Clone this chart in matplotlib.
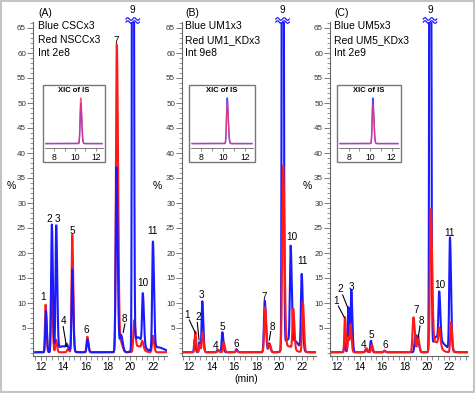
import numpy as np
import matplotlib
matplotlib.use("Agg")
import matplotlib.pyplot as plt
from matplotlib.patches import Rectangle

plt.rcParams['font.family'] = ['Liberation Sans', 'DejaVu Sans']

W, H = 475, 393
BLUE = '#1a1aff'
RED = '#ff1a1a'

# peak tables: retention time (min), height (%), width (min)
# panel A
a_blue_rt = [12.45, 12.98, 13.37, 13.9, 14.3, 14.8, 16.15, 18.75, 19.15, 20.2, 20.65, 21.1, 22.0, 22.4]
a_blue_h = [8.3, 25.5, 25.0, 1.2, 0.8, 16.3, 2.5, 37.0, 3.5, 250.0, 3.0, 10.0, 21.5, 1.0]
a_blue_w = [0.055, 0.06, 0.06, 0.35, 0.07, 0.06, 0.065, 0.07, 0.1, 0.05, 0.3, 0.065, 0.065, 0.4]
a_red_rt = [12.42, 12.95, 13.35, 14.4, 14.8, 16.15, 18.78, 19.15, 20.33, 20.7, 21.05, 22.0]
a_red_h = [9.5, 15.0, 2.5, 0.6, 23.5, 3.1, 61.5, 2.0, 6.0, 1.2, 1.5, 3.3]
a_red_w = [0.055, 0.06, 0.06, 0.07, 0.06, 0.065, 0.075, 0.1, 0.07, 0.25, 0.07, 0.07]

# panel B
b_blue_rt = [12.5, 12.92, 13.18, 14.55, 14.96, 16.2, 18.72, 19.12, 20.3, 20.75, 21.02, 21.5, 22.0]
b_blue_h = [2.5, 2.0, 10.2, 0.5, 4.0, 0.6, 10.3, 1.8, 250.0, 2.5, 19.0, 1.5, 15.0]
b_blue_w = [0.05, 0.05, 0.06, 0.07, 0.06, 0.06, 0.07, 0.07, 0.05, 0.3, 0.065, 0.25, 0.065]
b_red_rt = [12.55, 12.95, 13.2, 14.6, 15.08, 16.2, 18.75, 19.15, 20.35, 20.8, 21.25, 22.1]
b_red_h = [4.1, 1.5, 4.0, 0.4, 2.0, 0.3, 9.0, 1.6, 37.0, 1.2, 8.0, 10.0]
b_red_w = [0.055, 0.05, 0.06, 0.07, 0.06, 0.06, 0.075, 0.07, 0.08, 0.3, 0.065, 0.065]

# panel C
c_blue_rt = [12.65, 12.98, 13.25, 14.55, 15.0, 16.2, 18.98, 19.25, 20.28, 20.8, 21.1, 21.5, 22.06]
c_blue_h = [2.0, 9.0, 12.5, 0.5, 2.3, 0.3, 3.5, 1.5, 250.0, 3.0, 9.5, 1.2, 22.4]
c_blue_w = [0.05, 0.05, 0.06, 0.07, 0.06, 0.06, 0.08, 0.07, 0.05, 0.25, 0.065, 0.3, 0.065]
c_red_rt = [12.68, 12.98, 13.18, 14.6, 15.08, 16.2, 18.8, 19.2, 20.35, 20.8, 21.1, 22.15]
c_red_h = [7.0, 3.0, 5.5, 0.8, 1.5, 0.3, 7.0, 3.3, 28.2, 2.0, 3.5, 6.0]
c_red_w = [0.05, 0.05, 0.06, 0.07, 0.06, 0.06, 0.08, 0.07, 0.08, 0.25, 0.07, 0.065]

# internal standard (XIC of IS) peaks: rt, relative height
is_rt = [10.55, 10.37, 10.26]
is_blue_h = [0.88, 1.0, 1.0]
is_red_h = [1.0, 0.88, 0.85]

titles = ['(A)', '(B)', '(C)']
legend_blue = ['Blue CSCx3', 'Blue UM1x3', 'Blue UM5x3']
legend_red = ['Red NSCCx3', 'Red UM1_KDx3', 'Red UM5_KDx3']
intensity = ['Int 2e8', 'Int 9e8', 'Int 2e9']


def trace(t, rts, hs, ws, base=0.15):
    y = np.full_like(t, base)
    for r, h, w in zip(rts, hs, ws):
        wr = np.where(t > r, w * 1.5, w)
        y += h * np.exp(-0.5 * ((t - r) / wr) ** 2)
    return y


def fx(px):
    return px / W


def fy(py):
    return 1 - py / H


fig = plt.figure(figsize=(W / 100, H / 100), dpi=100)
fig.patches.append(Rectangle((0.002, 0.002), 0.996, 0.996, transform=fig.transFigure,
                             fill=False, ec='#c4c4c4', lw=1.5))

# panel geometry in pixels: left, right, x at left, x at right
panels = [(33, 167, 11.3, 23.26), (182, 316, 11.38, 23.27), (330, 468, 11.35, 23.67)]
top_px, bot_px = 22, 355.5
ylim = (-0.5, 66.2)

data = [
    (a_blue_rt, a_blue_h, a_blue_w, a_red_rt, a_red_h, a_red_w),
    (b_blue_rt, b_blue_h, b_blue_w, b_red_rt, b_red_h, b_red_w),
    (c_blue_rt, c_blue_h, c_blue_w, c_red_rt, c_red_h, c_red_w),
]

# peak label positions (x, y) and optional leader lines
labels = [
    {'1': (12.2, 11.3), '2': (12.74, 26.9), '3': (13.49, 26.9), '4': (13.99, 6.3),
     '5': (14.83, 24.3), '6': (16.08, 4.6), '7': (18.7, 62.5), '8': (19.5, 6.8),
     '10': (21.08, 13.9), '11': (21.97, 24.5)},
    {'1': (11.8, 7.6), '2': (12.83, 7.3), '3': (13.13, 11.6), '4': (14.4, 1.4),
     '5': (14.99, 5.1), '6': (16.17, 1.8), '7': (18.68, 11.3), '8': (19.43, 5.3),
     '10': (21.11, 23.3), '11': (22.09, 18.3)},
    {'1': (11.9, 10.3), '2': (12.3, 12.9), '3': (13.29, 13.1), '4': (14.32, 1.5),
     '5': (15.0, 3.6), '6': (16.26, 1.5), '7': (19.03, 8.6), '8': (19.47, 6.4),
     '10': (21.17, 13.6), '11': (22.06, 23.9)},
]
leaders = [
    [((13.99, 5.3), (14.29, 1.3)), ((19.5, 5.8), (19.35, 4.1))],
    [((12.03, 6.6), (12.59, 3.9)), ((12.74, 6.1), (12.89, 2.6)), ((19.25, 4.3), (19.13, 2.6))],
    [((12.09, 9.4), (12.63, 7.1)), ((12.48, 11.6), (12.93, 9.1)), ((19.38, 5.4), (19.23, 3.1))],
]
insets = [(43, 105), (189, 255), (337, 401)]
text_left = [38, 185, 334]
pct_x = [11, 157, 307]

for i in range(3):
    l, r, x0, x1 = panels[i]
    ax = fig.add_axes([fx(l), fy(bot_px), (r - l) / W, (bot_px - top_px) / H])
    ax.patch.set_alpha(0)
    brt, bh, bw, rrt, rh, rw = data[i]
    t = np.linspace(11.5, x1 - 0.05, 3000)
    yb = trace(t, brt, bh, bw)
    yr = trace(t, rrt, rh, rw)
    if i == 0:
        ax.plot(t, yr, color=RED, lw=1.5)
        ax.plot(t, yb, color=BLUE, lw=1.5)
    else:
        ax.plot(t, yb, color=BLUE, lw=1.5)
        ax.plot(t, yr, color=RED, lw=1.5)
    ax.set_xlim(x0, x1)
    ax.set_ylim(*ylim)
    for s in ['top', 'right']:
        ax.spines[s].set_visible(False)
    for s in ['left', 'bottom']:
        ax.spines[s].set_color('#666666')
        ax.spines[s].set_linewidth(0.8)
    ax.set_yticks(range(5, 70, 5))
    ax.set_yticks(range(0, 67), minor=True)
    ax.set_xticks(range(12, 23, 2))
    ax.set_xticks(np.arange(11.5, x1, 0.5), minor=True)
    ax.tick_params(axis='y', labelsize=5.8, length=4, width=0.6, color='#666666', pad=1,
                   labelcolor='#333333')
    ax.tick_params(axis='y', which='minor', length=2.5, width=0.5, color='#666666')
    ax.tick_params(axis='x', labelsize=7.2, length=3, width=0.6, color='#666666', pad=2)
    ax.tick_params(axis='x', which='minor', length=3, width=0.5, color='#666666')

    # peak labels
    for lab, (lx, ly) in labels[i].items():
        ax.text(lx, ly, lab, fontsize=7.2, ha='center', va='center')
    for (p0, p1) in leaders[i]:
        ax.plot([p0[0], p1[0]], [p0[1], p1[1]], color='k', lw=0.8)

    # axis-break mark on the off-scale peak 9
    rt9 = brt[bh.index(max(bh))]
    u = np.linspace(-0.6, 0.6, 40)
    for off in (0.0, 0.6):
        ax.plot(rt9 + u, ylim[1] + off + 0.25 * np.sin(u * 2 * np.pi / 0.6), color=BLUE,
                lw=0.9, clip_on=False)
    ax.text(rt9, 68.6, '9', fontsize=7.2, ha='center', va='center', clip_on=False)

    # header text
    tl = text_left[i]
    fig.text(fx(tl), fy(13), titles[i], fontsize=7.5, va='center')
    fig.text(fx(tl), fy(26), legend_blue[i], fontsize=7.5, va='center')
    fig.text(fx(tl), fy(40), legend_red[i], fontsize=7.5, va='center')
    fig.text(fx(tl), fy(53), intensity[i], fontsize=7.5, va='center')
    fig.text(fx(pct_x[i]), fy(186), '%', fontsize=7.5, ha='center', va='center')

    # inset: XIC of IS
    bl, br = insets[i]
    fig.patches.append(Rectangle((fx(bl), fy(162)), (br - bl) / W, 77 / H,
                                 transform=fig.transFigure, fill=False, ec='#777777', lw=1.0))
    iax = fig.add_axes([fx(bl + 2), fy(148), (br - bl - 4) / W, 56 / H])
    iax.patch.set_alpha(0)
    ti = np.linspace(7.2, 12.6, 800)
    iax.plot(ti, trace(ti, [is_rt[i]], [is_blue_h[i]], [0.06], base=0.03), color=BLUE, lw=1.0, alpha=0.8)
    iax.plot(ti, trace(ti, [is_rt[i]], [is_red_h[i]], [0.065], base=0.03), color='#ff3070', lw=1.0, alpha=0.8)
    iax.set_xlim(7.1, 12.7)
    iax.set_ylim(-0.067, 1.16)
    for s in ['top', 'right', 'left']:
        iax.spines[s].set_visible(False)
    iax.spines['bottom'].set_color('#666666')
    iax.spines['bottom'].set_linewidth(0.6)
    iax.set_yticks([])
    iax.set_xticks([8, 10, 12])
    iax.set_xticks([9, 11], minor=True)
    iax.tick_params(axis='x', labelsize=6.2, length=2, width=0.5, color='#666666', pad=1.5)
    iax.tick_params(axis='x', which='minor', length=2, width=0.5, color='#666666')
    fig.text(fx((bl + br) / 2), fy(90), 'XIC of IS', fontsize=5.5, fontweight='bold',
             ha='center', va='center')

fig.text(fx(246.7), fy(378.5), '(min)', fontsize=7.5, ha='center', va='center')

fig.savefig('out.png', dpi=100)
